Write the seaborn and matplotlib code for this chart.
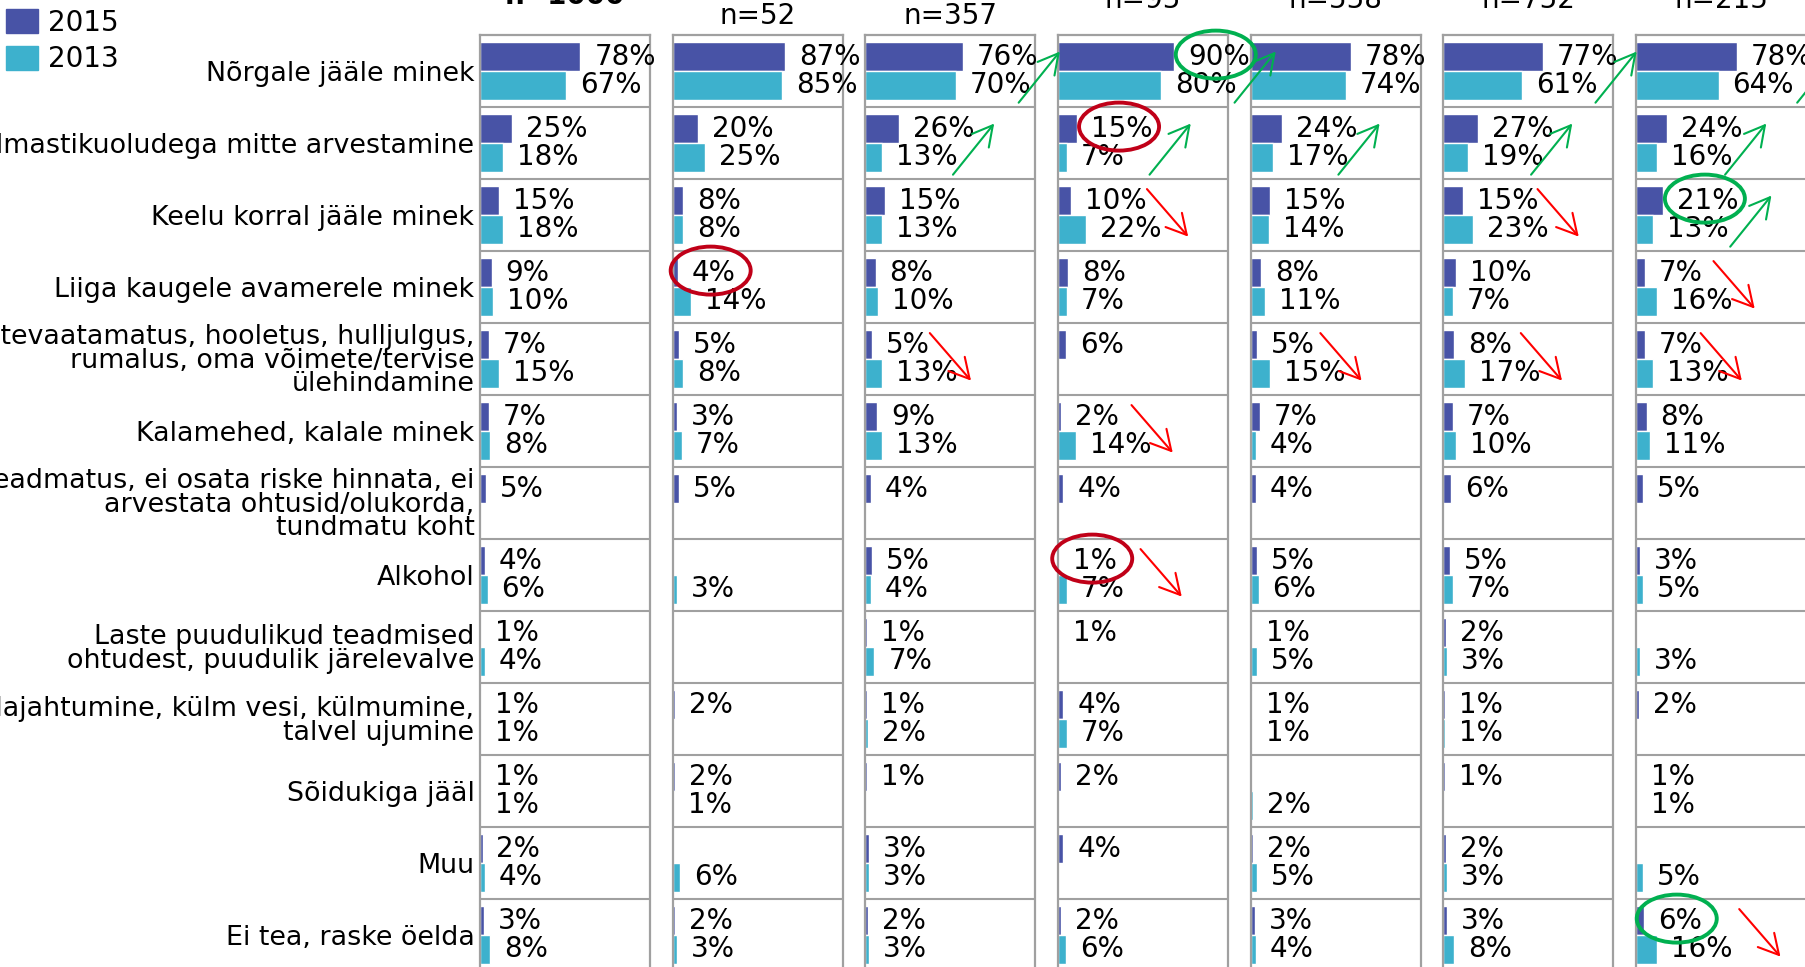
import pandas as pd
import matplotlib
matplotlib.use('Agg')
import matplotlib.pyplot as plt
import matplotlib.patches as mpatches
from matplotlib.transforms import IdentityTransform
import seaborn as sns

# categories (rows) - same in every panel
categories = [
    'Nõrgale jääle minek',
    'Ilmastikuoludega mitte arvestamine',
    'Keelu korral jääle minek',
    'Liiga kaugele avamerele minek',
    'Ettevaatamatus, hooletus, hulljulgus,\nrumalus, oma võimete/tervise\nülehindamine',
    'Kalamehed, kalale minek',
    'Teadmatus, ei osata riske hinnata, ei\narvestata ohtusid/olukorda,\ntundmatu koht',
    'Alkohol',
    'Laste puudulikud teadmised\nohtudest, puudulik järelevalve',
    'Alajahtumine, külm vesi, külmumine,\ntalvel ujumine',
    'Sõidukiga jääl',
    'Muu',
    'Ei tea, raske öelda',
]
years = ['2015', '2013']
panel_titles = ['n=1000', 'n=52', 'n=357', 'n=95', 'n=558', 'n=752', 'n=215']

# % per panel, None = no value shown
values_2015 = [
    [78, 25, 15, 9, 7, 7, 5, 4, 1, 1, 1, 2, 3],               # n=1000
    [87, 20, 8, 4, 5, 3, 5, None, None, 2, 2, None, 2],       # n=52
    [76, 26, 15, 8, 5, 9, 4, 5, 1, 1, 1, 3, 2],               # n=357
    [90, 15, 10, 8, 6, 2, 4, 1, 1, 4, 2, 4, 2],               # n=95
    [78, 24, 15, 8, 5, 7, 4, 5, 1, 1, None, 2, 3],            # n=558
    [77, 27, 15, 10, 8, 7, 6, 5, 2, 1, 1, 2, 3],              # n=752
    [78, 24, 21, 7, 7, 8, 5, 3, None, 2, 1, None, 6],         # n=215
]
values_2013 = [
    [67, 18, 18, 10, 15, 8, None, 6, 4, 1, 1, 4, 8],
    [85, 25, 8, 14, 8, 7, None, 3, None, None, 1, 6, 3],
    [70, 13, 13, 10, 13, 13, None, 4, 7, 2, None, 3, 3],
    [80, 7, 22, 7, None, 14, None, 7, None, 7, None, None, 6],
    [74, 17, 14, 11, 15, 4, None, 6, 5, 1, 2, 5, 4],
    [61, 19, 23, 7, 17, 10, None, 7, 3, 1, None, 3, 8],
    [64, 16, 13, 16, 13, 11, None, 5, 3, None, 1, 5, 16],
]

# change markers: (panel, row, direction, x start in % units)
arrows = [
    (2, 0, 'up', 119), (3, 0, 'up', 137), (5, 0, 'up', 118), (6, 0, 'up', 125),
    (2, 1, 'up', 68), (3, 1, 'up', 71), (4, 1, 'up', 68), (5, 1, 'up', 68), (6, 1, 'up', 69),
    (6, 2, 'up', 73),
    (3, 2, 'down', 69), (5, 2, 'down', 73), (6, 3, 'down', 60),
    (2, 4, 'down', 50), (4, 4, 'down', 54), (5, 4, 'down', 60), (6, 4, 'down', 50),
    (3, 5, 'down', 57), (3, 7, 'down', 64), (6, 12, 'down', 80),
]
# circled 2015 labels: (panel, row, colour)
circles = [(3, 0, 'green'), (3, 1, 'red'), (1, 3, 'red'), (6, 2, 'green'),
           (3, 7, 'red'), (6, 12, 'green')]

colors = {'2015': '#4853a6', '2013': '#3db1cd'}
line_col = '#a0a0a0'
mark_col = {'green': '#00b050', 'red': '#ff0000'}
circle_col = {'green': '#00b050', 'red': '#c00018'}

rows = []
for p in range(len(panel_titles)):
    for i, cat in enumerate(categories):
        for year, vals in zip(years, [values_2015, values_2013]):
            if vals[p][i] is not None:
                rows.append({'panel': p, 'category': cat, 'year': year, 'value': vals[p][i]})
df = pd.DataFrame(rows)

sns.set_style('white')
plt.rcParams['font.family'] = ['DejaVu Sans']
plt.rcParams['text.color'] = 'black'

W, H = 1806, 967
fig = plt.figure(figsize=(W / 100, H / 100), dpi=100)

left0, step, pw = 480, 192.7, 170
top, row_h = 35, 72
n_rows = len(categories)
fs_cat = 19.4
fs_val = 20

axes = []
label_texts = {}
for p, title in enumerate(panel_titles):
    x0 = left0 + p * step
    y_bottom = H - (top + n_rows * row_h)
    ax = fig.add_axes([x0 / W, y_bottom / H, pw / W, n_rows * row_h / H])
    ax.set_facecolor('none')
    d = df[df['panel'] == p]
    sns.barplot(data=d, x='value', y='category', hue='year', order=categories,
                hue_order=years, palette=colors, orient='h', saturation=1,
                width=0.8, legend=False, ax=ax)
    ax.set_xlim(0, 132)
    ax.set_ylim(n_rows - 0.5, -0.5)
    ax.set_xlabel('')
    ax.set_ylabel('')
    ax.set_xticks([])
    for s in ax.spines.values():
        s.set_color(line_col)
        s.set_linewidth(1.6)
    for k in range(1, n_rows):
        ax.axhline(k - 0.5, color=line_col, lw=1.5)

    if p == 0:
        ax.set_yticks(range(n_rows))
        ax.set_yticklabels(categories, fontsize=fs_cat, linespacing=0.88)
        ax.tick_params(axis='y', length=0, pad=4, labelcolor='black')
    else:
        ax.set_yticks([])

    for j, vals in enumerate([values_2015, values_2013]):
        for i in range(n_rows):
            v = vals[p][i]
            if v is None:
                continue
            t = ax.annotate(f'{v}%', (v, i + (-0.2 if j == 0 else 0.2)),
                            xytext=(10, 0), textcoords='offset points',
                            va='center', ha='left', fontsize=fs_val,
                            annotation_clip=False)
            if j == 0:
                label_texts[(p, i)] = t

    # panel header
    base = [4, 24, 24, 8, 8, 8, 8][p]
    fig.text((x0 + pw / 2) / W, 1 - base / H, title, ha='center', va='baseline',
             fontsize=fs_val, fontweight='bold' if p == 0 else 'normal')
    axes.append(ax)

# arrows
for p, r, direction, xs in arrows:
    if direction == 'up':
        start, end = (xs, r + 0.44), (xs + 32, r - 0.27)
    else:
        start, end = (xs, r - 0.36), (xs + 32, r + 0.3)
    arr = mpatches.FancyArrowPatch(start, end, transform=axes[p].transData,
                                   arrowstyle='->,head_length=0.55,head_width=0.3',
                                   mutation_scale=26,
                                   color=mark_col['green' if direction == 'up' else 'red'],
                                   lw=1.5, shrinkA=0, shrinkB=0)
    fig.add_artist(arr)

# legend
handles = [mpatches.Patch(color=colors[y]) for y in years]
fig.legend(handles, years, loc='upper left', bbox_to_anchor=(6 / W, 1 - 9 / H),
           frameon=False, fontsize=fs_val, handlelength=1.15, handleheight=0.95,
           handletextpad=0.35, labelspacing=0.3, borderpad=0, borderaxespad=0)

# circles around labels
fig.canvas.draw()
for p, r, c in circles:
    bb = label_texts[(p, r)].get_window_extent()
    cx, cy = (bb.x0 + bb.x1) / 2, (bb.y0 + bb.y1) / 2
    e = mpatches.Ellipse((cx - 3, cy + 2), 80, 48, fill=False, edgecolor=circle_col[c],
                         lw=2.8, transform=IdentityTransform())
    fig.add_artist(e)

fig.savefig('out.png', dpi=100)
